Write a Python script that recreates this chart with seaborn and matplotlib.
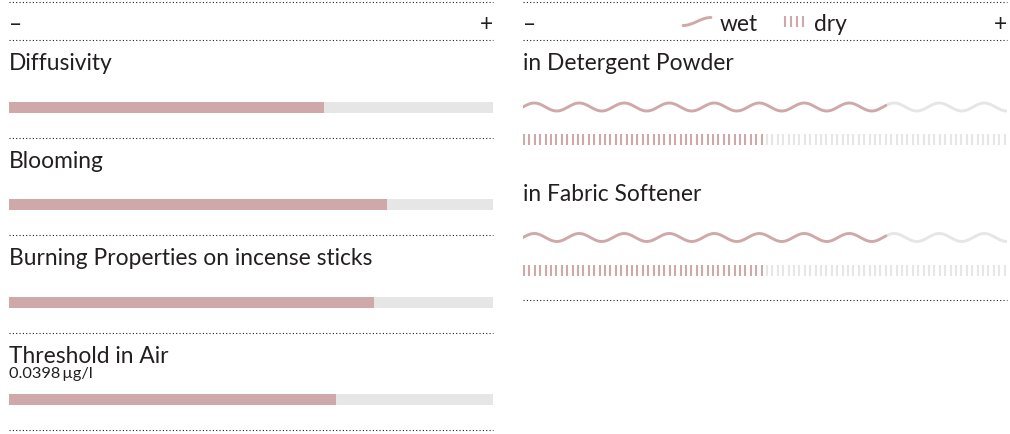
import numpy as np
import matplotlib.pyplot as plt
import seaborn as sns

# values (0 = "–", 1 = "+")
left_labels = ["Diffusivity", "Blooming", "Burning Properties on incense sticks", "Threshold in Air"]
left_values = [0.65, 0.78, 0.755, 0.675]
left_notes = ["", "", "", "0.0398\u2009µg/l"]
right_labels = ["in Detergent Powder", "in Fabric Softener"]
wet_values = [0.75, 0.75]
dry_values = [0.5, 0.5]

pink = "#cfa8aa"
grey = "#e6e6e7"
ink = "#231f20"
fs = 16.4

sns.set_theme(style="white")
plt.rcParams["font.family"] = ["Lato", "DejaVu Sans"]

W, H = 1010, 435
fig = plt.figure(figsize=(W / 100, H / 100), dpi=100)

# left panel: bars, y in category units (row spacing 97.5 px, first bar at 108 px)
row = 97.5
y0 = 108
axL = fig.add_axes([9 / W, 0, 484 / W, 1])
bw = 11 / row
sns.barplot(x=[1.0] * len(left_labels), y=left_labels, color=grey, saturation=1,
            width=bw, orient="h", linewidth=0, ax=axL)
sns.barplot(x=left_values, y=left_labels, color=pink, saturation=1,
            width=bw, orient="h", linewidth=0, ax=axL)
axL.set_xlim(0, 1)
axL.set_ylim((H - y0) / row, -y0 / row)
axL.axis("off")

def dotted(ax, y):
    ax.axhline(y, color=ink, lw=0.8, ls=(0, (1, 2)), clip_on=False)

for y_px in [3, 41]:
    dotted(axL, (y_px - y0) / row)
for i, (lab, note) in enumerate(zip(left_labels, left_notes)):
    axL.text(0, i - 37.5 / row, lab, fontsize=fs, color=ink, va="baseline", ha="left")
    if note:
        axL.text(0, i - 22.5 / row, note, fontsize=11.8, color=ink, va="baseline", ha="left")
    dotted(axL, i + 31 / row)
axL.text(0, (31 - y0) / row, "–", fontsize=fs, color=ink, va="baseline", ha="left")
axL.text(1, (31 - y0) / row, "+", fontsize=fs, color=ink, va="baseline", ha="right")

# right panel: wavy "wet" line and tick "dry" line, y in pixels
axR = fig.add_axes([523 / W, 0, 484 / W, 1])
axR.set_xlim(0, 1)
axR.set_ylim(H, 0)
axR.axis("off")
period = 45 / 484
amp = 4.0
tick_step = 5.4 / 484
rows_y = [108, 238.5]

for lab, wet, dry, yc in zip(right_labels, wet_values, dry_values, rows_y):
    axR.text(0, yc - 37.5, lab, fontsize=fs, color=ink, va="baseline", ha="left")
    xs = np.linspace(0, 1, 1200)
    ys = yc - amp * np.sin(2 * np.pi * xs / period)
    on = xs <= wet
    sns.lineplot(x=xs[~on], y=ys[~on], color=grey, lw=2.1, sort=False,
                 estimator=None, ax=axR)
    sns.lineplot(x=xs[on], y=ys[on], color=pink, lw=2.1, sort=False,
                 estimator=None, ax=axR)
    tx = np.arange(0.002, 1.0, tick_step)
    cols = [pink if t < dry else grey for t in tx]
    axR.vlines(tx, yc + 27, yc + 38, colors=cols, lw=1.5)

for y_px in [3, 41, 301]:
    dotted(axR, y_px)
axR.text(0, 31, "–", fontsize=fs, color=ink, va="baseline", ha="left")
axR.text(1, 31, "+", fontsize=fs, color=ink, va="baseline", ha="right")

# legend glyphs
def px(x):
    return (x - 523) / 484
t = np.linspace(0, 1, 60)
axR.plot(px(683 + 28 * t), 22.5 - 4 * np.sin(np.pi * (t - 0.5)), color=pink, lw=2.1)
axR.text(px(720), 31, "wet", fontsize=fs, color=ink, va="baseline", ha="left")
axR.vlines([px(785), px(791), px(797), px(803)], 17, 28, colors=pink, lw=1.5)
axR.text(px(814), 31, "dry", fontsize=fs, color=ink, va="baseline", ha="left")

fig.savefig("out.png", dpi=100)
